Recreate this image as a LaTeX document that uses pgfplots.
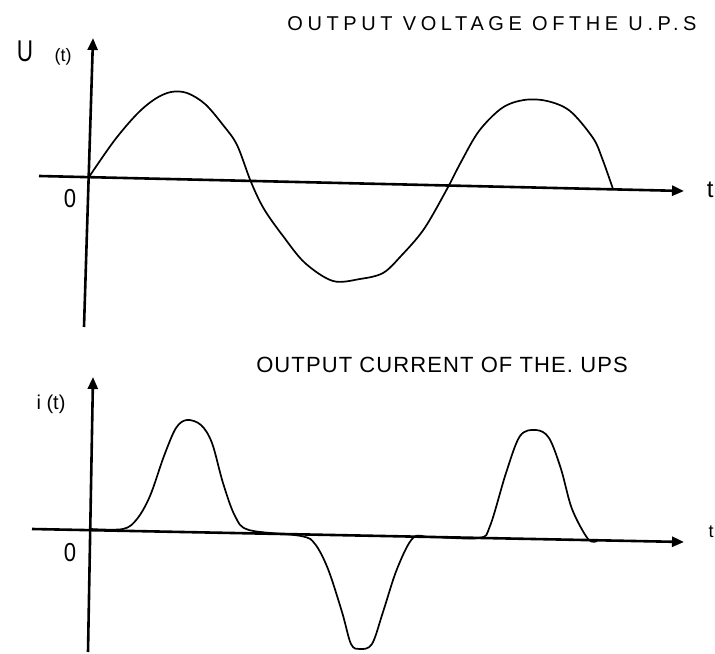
\documentclass[border=0pt]{standalone}
\usepackage{fontspec}
\setmainfont{Liberation Sans}
\usepackage{pgfplots}
\pgfplotsset{compat=1.18}
\usetikzlibrary{arrows.meta}

% hand drawn sketch: values (1 unit = 1 px of the reference)
\pgfplotsset{
  sketch/.style={hide axis, x=0.5pt, y=0.5pt, clip=false},
  axln/.style={black, line width=1.3pt, -{Triangle[length=6pt,width=5pt]}},
  wave/.style={black, line width=0.85pt, smooth, tension=0.55},
}
\newfontfamily\hand[LetterSpace=23]{Liberation Sans}
\newfontfamily\handb[LetterSpace=5]{Liberation Sans}
\tikzset{big/.style={font=\fontsize{13}{13}\selectfont, xscale=0.85}}

\begin{document}
\begin{tikzpicture}
  % output voltage
  \begin{axis}[sketch, at={(0pt,161pt)}, anchor=south west,
      xmin=-89, xmax=626, ymin=-153, ymax=177]
    \path (rel axis cs:0,0) rectangle (rel axis cs:1,1);
    \addplot[axln] coordinates {(-50,1) (595,-14)};
    \addplot[axln] coordinates {(-5,-150) (4,139)};
    \addplot[wave] coordinates {
      (0,0) (25,36) (48,63) (66,78) (82,85) (98,84) (116,73) (134,52)
      (148,32) (162,-5) (175,-32) (194,-59) (216,-86) (244,-104) (271,-102)
      (294,-96) (312,-79) (335,-52) (358,-12) (372,15) (390,46) (413,69)
      (435,77) (458,76) (481,66) (504,39) (513,19) (524,-12)};
    \node[font=\fontsize{15}{15}\selectfont, xscale=0.75] at (axis cs:-64,126) {U};
    \node[font=\fontsize{9}{9}\selectfont] at (axis cs:-26,120) {(t)};
    \node[big] at (axis cs:-19,-22) {0};
    \node[font=\fontsize{12}{12}\selectfont, anchor=east, inner xsep=0.5pt]
      at (axis cs:626,-13) {t};
    \node[font=\fontsize{10}{10}\selectfont\hand] at (axis cs:403,153)
      {OUTPUT  VOLTAGE OFTHE U.P.S};
  \end{axis}
  % output current
  \begin{axis}[sketch, at={(0pt,0pt)}, anchor=south west,
      xmin=-91, xmax=624, ymin=-122, ymax=200]
    \path (rel axis cs:0,0) rectangle (rel axis cs:1,1);
    \addplot[axln] coordinates {(-59,1) (593,-12)};
    \addplot[axln] coordinates {(-3,-122) (2,153)};
    \addplot[wave] coordinates {
      (0,1) (32,1) (46,11) (59,34) (73,74) (85,102) (96,110) (110,105)
      (121,87) (132,47) (144,14) (158,0) (210,-6) (224,-14) (237,-39)
      (251,-82) (260,-114) (269,-119) (281,-114) (292,-82) (306,-39)
      (322,-8) (340,-7) (388,-8) (399,4) (415,57) (429,94) (445,100) (458,92)
      (470,61) (481,21) (497,-9) (506,-11)};
    \node[font=\fontsize{10}{10}\selectfont] at (axis cs:-40,126) {i (t)};
    \node[big] at (axis cs:-21,-23) {0};
    \node[font=\fontsize{9}{9}\selectfont, anchor=east, inner xsep=0.5pt]
      at (axis cs:624,-2) {t};
    \node[font=\fontsize{11}{11}\selectfont\handb] at (axis cs:351,165)
      {OUTPUT CURRENT OF THE. UPS};
  \end{axis}
\end{tikzpicture}
\end{document}
